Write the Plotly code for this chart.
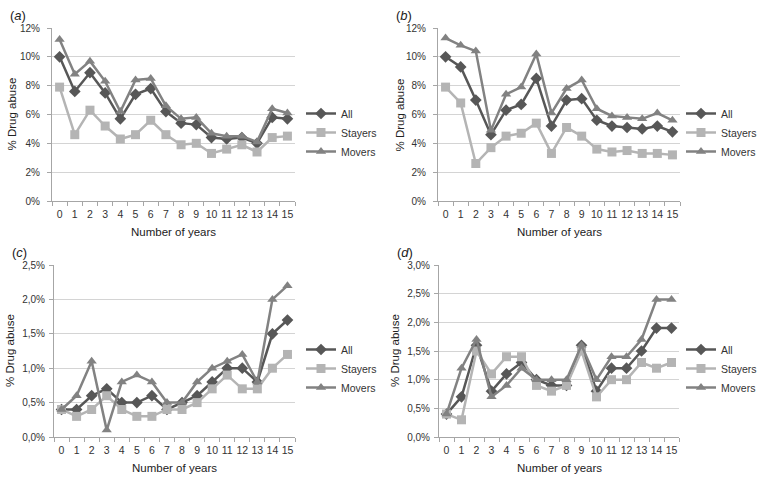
import plotly.graph_objects as go

years = [str(i) for i in range(16)]
series_names = ["All", "Stayers", "Movers"]

# Panel (a)
a_all = [10.0, 7.6, 8.9, 7.5, 5.7, 7.4, 7.8, 6.2, 5.4, 5.3, 4.4, 4.3, 4.4, 4.0, 5.8, 5.7]
a_stayers = [7.9, 4.6, 6.3, 5.2, 4.3, 4.6, 5.6, 4.6, 3.9, 4.0, 3.3, 3.6, 3.9, 3.4, 4.4, 4.5]
a_movers = [11.2, 8.8, 9.7, 8.3, 6.2, 8.4, 8.5, 6.6, 5.7, 5.8, 4.7, 4.5, 4.5, 4.1, 6.4, 6.1]
# Panel (b)
b_all = [10.0, 9.3, 7.0, 4.6, 6.3, 6.7, 8.5, 5.2, 7.0, 7.1, 5.6, 5.2, 5.1, 5.0, 5.2, 4.8]
b_stayers = [7.9, 6.8, 2.6, 3.7, 4.5, 4.7, 5.4, 3.3, 5.1, 4.5, 3.6, 3.4, 3.5, 3.3, 3.3, 3.2]
b_movers = [11.3, 10.8, 10.4, 4.9, 7.4, 7.9, 10.2, 6.1, 7.8, 8.4, 6.4, 5.9, 5.8, 5.7, 6.1, 5.6]
# Panel (c)
c_all = [0.4, 0.4, 0.6, 0.7, 0.5, 0.5, 0.6, 0.4, 0.5, 0.6, 0.8, 1.0, 1.0, 0.8, 1.5, 1.7]
c_stayers = [0.4, 0.3, 0.4, 0.6, 0.4, 0.3, 0.3, 0.4, 0.4, 0.5, 0.7, 0.9, 0.7, 0.7, 1.0, 1.2]
c_movers = [0.4, 0.6, 1.1, 0.1, 0.8, 0.9, 0.8, 0.5, 0.5, 0.8, 1.0, 1.1, 1.2, 0.8, 2.0, 2.2]
# Panel (d)
d_all = [0.4, 0.7, 1.6, 0.8, 1.1, 1.3, 1.0, 0.9, 0.9, 1.6, 0.8, 1.2, 1.2, 1.5, 1.9, 1.9]
d_stayers = [0.4, 0.3, 1.5, 1.1, 1.4, 1.4, 0.9, 0.8, 0.9, 1.5, 0.7, 1.0, 1.0, 1.3, 1.2, 1.3]
d_movers = [0.4, 1.2, 1.7, 0.7, 0.9, 1.2, 1.0, 1.0, 1.0, 1.6, 1.0, 1.4, 1.4, 1.7, 2.4, 2.4]

panel_labels = ["a", "b", "c", "d"]
y_max = [12, 12, 2.5, 3.0]
y_dtick = [2, 2, 0.5, 0.5]
y_fmt = [".0%", ".0%", ".1%", ".1%"]

panels = [
    (a_all, a_stayers, a_movers),
    (b_all, b_stayers, b_movers),
    (c_all, c_stayers, c_movers),
    (d_all, d_stayers, d_movers),
]

styles = {
    "All": dict(color="#575757", symbol="diamond", size=9),
    "Stayers": dict(color="#b4b4b4", symbol="square", size=9),
    "Movers": dict(color="#828282", symbol="triangle-up", size=9),
}

W, H = 762, 482
# plot area pixel boxes (x0, x1, ytop, ybottom)
boxes = [
    (52, 295, 28, 201),
    (438, 680, 28, 201),
    (54, 295, 265, 437),
    (439, 679, 265, 437),
]
legend_pos = [(301, 99), (681, 99), (301, 335), (681, 335)]
ytitle_x = [11, 399, 10, 395]
ylab_standoff = [5, 5, 2, 2]

fig = go.Figure()
FONT = "Liberation Sans"
for i, (vals, box) in enumerate(zip(panels, boxes)):
    n = i + 1
    xa = "x" if n == 1 else f"x{n}"
    ya = "y" if n == 1 else f"y{n}"
    lg = "legend" if n == 1 else f"legend{n}"
    for name, v in zip(series_names, vals):
        st = styles[name]
        fig.add_trace(go.Scatter(
            x=years, y=[val / 100 for val in v], name=name, mode="lines+markers",
            xaxis=xa, yaxis=ya, legend=lg,
            line=dict(color=st["color"], width=2.5),
            marker=dict(symbol=st["symbol"], size=st["size"], color=st["color"]),
            cliponaxis=False, hoverinfo="skip",
        ))
    x0, x1, yt, yb = box
    xd = [x0 / W, x1 / W]
    yd = [1 - yb / H, 1 - yt / H]
    xkey = "xaxis" if n == 1 else f"xaxis{n}"
    ykey = "yaxis" if n == 1 else f"yaxis{n}"
    fig.layout[xkey] = dict(
        domain=xd, anchor=ya, type="category", tickson="boundaries",
        ticks="outside", ticklen=4, tickcolor="#a6a6a6", showline=True,
        linecolor="#a6a6a6", linewidth=1, showgrid=False, tickangle=0,
        automargin=False, ticklabelstandoff=3, fixedrange=True,
        tickfont=dict(family=FONT, size=10.5, color="#333333"),
        range=[-0.5, 15.5],
    )
    fig.layout[ykey] = dict(
        domain=yd, anchor=xa, range=[0, y_max[i] / 100], dtick=y_dtick[i] / 100,
        tick0=0, tickformat=y_fmt[i], ticks="outside", ticklen=4,
        tickcolor="#a6a6a6", showline=True, linecolor="#a6a6a6", linewidth=1,
        showgrid=True, gridcolor="#d4d4d4", gridwidth=1, zeroline=False,
        automargin=False, ticklabelstandoff=ylab_standoff[i], fixedrange=True,
        tickfont=dict(family=FONT, size=10, color="#333333"),
    )
    lx, ly = legend_pos[i]
    fig.layout[lg] = dict(
        x=lx / W, y=1 - ly / H, xanchor="left", yanchor="top",
        xref="paper", yref="paper", bgcolor="rgba(0,0,0,0)",
        font=dict(family=FONT, size=10.5, color="#333333"),
        itemwidth=30, tracegroupgap=0, itemclick=False, itemdoubleclick=False,
    )
    # axis titles and panel label
    fig.add_annotation(
        x=(x0 + x1) / 2 / W, y=1 - (yb + 31) / H, xref="paper", yref="paper",
        text="Number of years", showarrow=False, xanchor="center", yanchor="middle",
        font=dict(family=FONT, size=11.5, color="#222222"),
    )
    fig.add_annotation(
        x=ytitle_x[i] / W, y=1 - (yt + yb) / 2 / H, xref="paper", yref="paper",
        text="% Drug abuse", showarrow=False, textangle=-90,
        xanchor="center", yanchor="middle",
        font=dict(family=FONT, size=11.5, color="#222222"),
    )
    fig.add_annotation(
        x=(x0 - 44) / W, y=1 - (yt - 13) / H, xref="paper", yref="paper",
        text=f"(<i>{panel_labels[i]}</i>)", showarrow=False,
        xanchor="left", yanchor="middle",
        font=dict(family=FONT, size=13, color="#222222"),
    )

fig.update_layout(
    width=W, height=H, margin=dict(l=0, r=0, t=0, b=0),
    paper_bgcolor="white", plot_bgcolor="white",
    separators=",.", showlegend=True, hovermode=False,
)
fig.write_html(
    "out.html",
    config={"displayModeBar": False, "staticPlot": False},
    post_script="document.body.style.margin='0';document.body.style.overflow='hidden';",
)
